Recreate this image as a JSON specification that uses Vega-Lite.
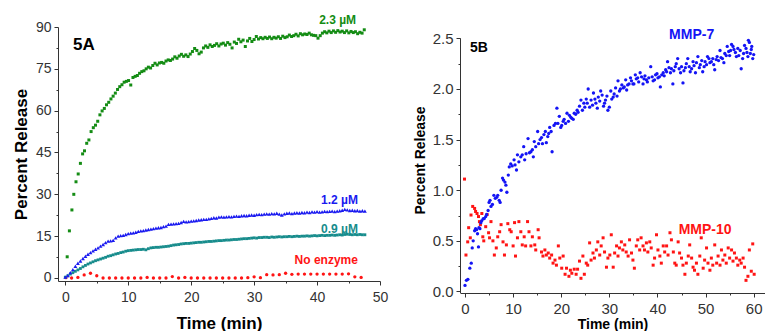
{
"$schema": "https://vega.github.io/schema/vega-lite/v6.json",
"background": "white",
"padding": {"left": 12, "top": 14, "right": 0, "bottom": 0},
"bounds": "flush",
"spacing": 80,
"resolve": {"scale": {"color": "independent"}},
"config": {
  "view": {"stroke": null},
  "axis": {"domainColor": "#333", "tickColor": "#333", "labelFont": "Liberation Sans", "titleFont": "Liberation Sans", "labelColor": "#333", "titleColor": "#000", "titleFontWeight": "bold", "grid": false, "labelFlush": false, "labelOverlap": false, "domainWidth": 1, "tickWidth": 1}
},
"datasets": {
  "g23": [{"t":0.3,"v":7.6},{"t":0.65,"v":16.9},{"t":1.05,"v":24.4},{"t":1.35,"v":30},{"t":1.7,"v":34.5},{"t":2.05,"v":37.3},{"t":2.4,"v":41.1},{"t":2.75,"v":44.5},{"t":3.05,"v":45.6},{"t":3.4,"v":48.3},{"t":3.75,"v":49.5},{"t":4.1,"v":52.5},{"t":4.45,"v":53.9},{"t":4.8,"v":54.8},{"t":5.15,"v":56.2},{"t":5.5,"v":58.5},{"t":5.85,"v":59.9},{"t":6.2,"v":60.8},{"t":6.55,"v":62.1},{"t":6.9,"v":63},{"t":7.25,"v":64.2},{"t":7.6,"v":65.2},{"t":7.95,"v":66.3},{"t":8.3,"v":67.6},{"t":8.65,"v":68.6},{"t":9.0,"v":69.3},{"t":9.35,"v":70.2},{"t":9.7,"v":70.5},{"t":10.05,"v":70.8},{"t":10.4,"v":69.2},{"t":10.75,"v":71.9},{"t":11.1,"v":72.3},{"t":11.45,"v":72.6},{"t":11.8,"v":73.4},{"t":12.15,"v":74.0},{"t":12.5,"v":74.3},{"t":12.85,"v":75.0},{"t":13.2,"v":75.6},{"t":13.55,"v":75.3},{"t":13.9,"v":76.2},{"t":14.25,"v":77.0},{"t":14.6,"v":76.4},{"t":14.95,"v":77.1},{"t":15.3,"v":77.3},{"t":15.65,"v":77.0},{"t":16.0,"v":77.8},{"t":16.35,"v":78.2},{"t":16.7,"v":78.0},{"t":17.05,"v":78.5},{"t":17.4,"v":79.3},{"t":17.75,"v":78.8},{"t":18.1,"v":79.6},{"t":18.45,"v":80.2},{"t":18.8,"v":79.5},{"t":19.15,"v":80.0},{"t":19.5,"v":79.4},{"t":19.85,"v":80.3},{"t":20.2,"v":81.2},{"t":20.55,"v":82.3},{"t":20.9,"v":81.6},{"t":21.25,"v":80.4},{"t":21.6,"v":81.0},{"t":21.95,"v":82.5},{"t":22.3,"v":83.2},{"t":22.65,"v":82.7},{"t":23.0,"v":83.6},{"t":23.35,"v":83.0},{"t":23.7,"v":83.4},{"t":24.05,"v":84.0},{"t":24.4,"v":83.2},{"t":24.75,"v":83.9},{"t":25.1,"v":84.2},{"t":25.45,"v":83.5},{"t":25.8,"v":84.4},{"t":26.15,"v":83.8},{"t":26.5,"v":82.5},{"t":26.85,"v":84.6},{"t":27.2,"v":84.1},{"t":27.55,"v":85.6},{"t":27.9,"v":84.7},{"t":28.25,"v":85.3},{"t":28.6,"v":83.0},{"t":28.95,"v":85.0},{"t":29.3,"v":85.9},{"t":29.65,"v":84.8},{"t":30.0,"v":85.5},{"t":30.35,"v":86.6},{"t":30.7,"v":85.7},{"t":31.05,"v":86.2},{"t":31.4,"v":85.8},{"t":31.75,"v":86.3},{"t":32.1,"v":85.9},{"t":32.45,"v":86.4},{"t":32.8,"v":85.8},{"t":33.15,"v":86.3},{"t":33.5,"v":86.0},{"t":33.85,"v":86.5},{"t":34.2,"v":85.9},{"t":34.55,"v":86.7},{"t":34.9,"v":86.2},{"t":35.25,"v":86.5},{"t":35.6,"v":87.1},{"t":35.95,"v":86.6},{"t":36.3,"v":86.9},{"t":36.65,"v":87.4},{"t":37.0,"v":86.8},{"t":37.35,"v":87.6},{"t":37.7,"v":87.2},{"t":38.05,"v":87.5},{"t":38.4,"v":87.3},{"t":38.75,"v":87.8},{"t":39.1,"v":87.2},{"t":39.45,"v":87.0},{"t":39.8,"v":86.9},{"t":40.15,"v":86.0},{"t":40.5,"v":86.9},{"t":40.85,"v":87.8},{"t":41.2,"v":88.3},{"t":41.55,"v":87.9},{"t":41.9,"v":88.5},{"t":42.25,"v":88.0},{"t":42.6,"v":88.6},{"t":42.95,"v":88.1},{"t":43.3,"v":88.7},{"t":43.65,"v":88.2},{"t":44.0,"v":88.5},{"t":44.35,"v":88.0},{"t":44.7,"v":88.6},{"t":45.05,"v":87.9},{"t":45.4,"v":88.4},{"t":45.75,"v":88.0},{"t":46.1,"v":88.3},{"t":46.45,"v":87.6},{"t":46.8,"v":88.1},{"t":47.15,"v":87.8},{"t":47.5,"v":89.0}],
  "b12": [{"t":0.0,"v":0.3},{"t":0.4,"v":0.9},{"t":0.8,"v":1.9},{"t":1.2,"v":3.0},{"t":1.6,"v":4.2},{"t":2.0,"v":5.3},{"t":2.4,"v":6.1},{"t":2.8,"v":7.0},{"t":3.2,"v":7.8},{"t":3.6,"v":8.5},{"t":4.0,"v":9.1},{"t":4.4,"v":9.7},{"t":4.8,"v":10.3},{"t":5.2,"v":10.8},{"t":5.6,"v":11.4},{"t":6.0,"v":12.0},{"t":6.4,"v":12.7},{"t":6.8,"v":13.2},{"t":7.2,"v":13.3},{"t":7.6,"v":13.5},{"t":8.0,"v":14.4},{"t":8.4,"v":15.0},{"t":8.8,"v":15.2},{"t":9.2,"v":15.3},{"t":9.6,"v":15.6},{"t":10.0,"v":15.9},{"t":10.4,"v":16.1},{"t":10.8,"v":16.2},{"t":11.2,"v":16.4},{"t":11.6,"v":16.7},{"t":12.0,"v":16.9},{"t":12.4,"v":17.0},{"t":12.8,"v":17.2},{"t":13.2,"v":17.4},{"t":13.6,"v":17.5},{"t":14.0,"v":17.7},{"t":14.4,"v":17.9},{"t":14.8,"v":18.0},{"t":15.2,"v":18.1},{"t":15.6,"v":18.4},{"t":16.0,"v":18.6},{"t":16.4,"v":19.2},{"t":16.8,"v":19.3},{"t":17.2,"v":19.4},{"t":17.6,"v":19.5},{"t":18.0,"v":19.6},{"t":18.4,"v":19.9},{"t":18.8,"v":20.3},{"t":19.2,"v":20.1},{"t":19.6,"v":20.2},{"t":20.0,"v":20.4},{"t":20.4,"v":20.5},{"t":20.8,"v":20.6},{"t":21.2,"v":20.8},{"t":21.6,"v":20.9},{"t":22.0,"v":21.0},{"t":22.4,"v":21.0},{"t":22.8,"v":21.2},{"t":23.2,"v":21.4},{"t":23.6,"v":21.6},{"t":24.0,"v":21.5},{"t":24.4,"v":21.8},{"t":24.8,"v":21.9},{"t":25.2,"v":21.8},{"t":25.6,"v":21.9},{"t":26.0,"v":22.0},{"t":26.4,"v":21.9},{"t":26.8,"v":22.1},{"t":27.2,"v":22.2},{"t":27.6,"v":22.1},{"t":28.0,"v":22.3},{"t":28.4,"v":22.4},{"t":28.8,"v":22.3},{"t":29.2,"v":22.5},{"t":29.6,"v":22.6},{"t":30.0,"v":22.5},{"t":30.4,"v":22.7},{"t":30.8,"v":22.8},{"t":31.2,"v":22.7},{"t":31.6,"v":22.9},{"t":32.0,"v":23.0},{"t":32.4,"v":22.9},{"t":32.8,"v":23.1},{"t":33.2,"v":23.0},{"t":33.6,"v":23.2},{"t":34.0,"v":22.9},{"t":34.4,"v":22.6},{"t":34.8,"v":23.0},{"t":35.2,"v":23.2},{"t":35.6,"v":23.3},{"t":36.0,"v":23.1},{"t":36.4,"v":23.3},{"t":36.8,"v":23.4},{"t":37.2,"v":23.3},{"t":37.6,"v":23.5},{"t":38.0,"v":23.4},{"t":38.4,"v":23.6},{"t":38.8,"v":23.5},{"t":39.2,"v":23.7},{"t":39.6,"v":23.6},{"t":40.0,"v":23.8},{"t":40.4,"v":23.6},{"t":40.8,"v":23.7},{"t":41.2,"v":23.9},{"t":41.6,"v":23.8},{"t":42.0,"v":23.9},{"t":42.4,"v":24.0},{"t":42.8,"v":23.8},{"t":43.2,"v":24.0},{"t":43.6,"v":24.1},{"t":44.0,"v":24.3},{"t":44.4,"v":24.6},{"t":44.8,"v":24.4},{"t":45.2,"v":24.2},{"t":45.6,"v":24.3},{"t":46.0,"v":24.1},{"t":46.4,"v":24.2},{"t":46.8,"v":24.0},{"t":47.2,"v":24.1},{"t":47.6,"v":24.0}],
  "t09": [{"t":0.0,"v":0.3},{"t":0.4,"v":0.8},{"t":0.8,"v":1.4},{"t":1.2,"v":1.9},{"t":1.6,"v":2.4},{"t":2.0,"v":2.9},{"t":2.4,"v":3.4},{"t":2.8,"v":4.0},{"t":3.2,"v":4.5},{"t":3.6,"v":5.0},{"t":4.0,"v":5.4},{"t":4.4,"v":5.8},{"t":4.8,"v":6.2},{"t":5.2,"v":6.5},{"t":5.6,"v":6.8},{"t":6.0,"v":7.1},{"t":6.4,"v":7.4},{"t":6.8,"v":7.8},{"t":7.2,"v":8.0},{"t":7.6,"v":8.3},{"t":8.0,"v":8.6},{"t":8.4,"v":8.8},{"t":8.8,"v":9.1},{"t":9.2,"v":9.3},{"t":9.6,"v":9.6},{"t":10.0,"v":9.8},{"t":10.4,"v":9.9},{"t":10.8,"v":10.0},{"t":11.2,"v":10.1},{"t":11.6,"v":10.2},{"t":12.0,"v":10.2},{"t":12.4,"v":10.3},{"t":12.8,"v":10.1},{"t":13.2,"v":10.5},{"t":13.6,"v":10.8},{"t":14.0,"v":10.9},{"t":14.4,"v":11.0},{"t":14.8,"v":11.0},{"t":15.2,"v":11.1},{"t":15.6,"v":11.2},{"t":16.0,"v":11.3},{"t":16.4,"v":11.4},{"t":16.8,"v":11.6},{"t":17.2,"v":11.8},{"t":17.6,"v":11.9},{"t":18.0,"v":12.0},{"t":18.4,"v":12.2},{"t":18.8,"v":12.3},{"t":19.2,"v":12.4},{"t":19.6,"v":12.4},{"t":20.0,"v":12.5},{"t":20.4,"v":12.6},{"t":20.8,"v":12.7},{"t":21.2,"v":12.8},{"t":21.6,"v":12.8},{"t":22.0,"v":12.9},{"t":22.4,"v":13.0},{"t":22.8,"v":13.1},{"t":23.2,"v":13.1},{"t":23.6,"v":13.2},{"t":24.0,"v":13.3},{"t":24.4,"v":13.4},{"t":24.8,"v":13.4},{"t":25.2,"v":13.5},{"t":25.6,"v":13.6},{"t":26.0,"v":13.6},{"t":26.4,"v":13.7},{"t":26.8,"v":13.8},{"t":27.2,"v":13.8},{"t":27.6,"v":13.9},{"t":28.0,"v":14.0},{"t":28.4,"v":14.1},{"t":28.8,"v":14.1},{"t":29.2,"v":14.2},{"t":29.6,"v":14.3},{"t":30.0,"v":14.4},{"t":30.4,"v":14.3},{"t":30.8,"v":14.5},{"t":31.2,"v":14.5},{"t":31.6,"v":14.6},{"t":32.0,"v":14.6},{"t":32.4,"v":14.5},{"t":32.8,"v":14.7},{"t":33.2,"v":14.6},{"t":33.6,"v":14.7},{"t":34.0,"v":14.8},{"t":34.4,"v":14.7},{"t":34.8,"v":14.8},{"t":35.2,"v":14.8},{"t":35.6,"v":14.9},{"t":36.0,"v":14.8},{"t":36.4,"v":14.9},{"t":36.8,"v":15.0},{"t":37.2,"v":14.9},{"t":37.6,"v":15.0},{"t":38.0,"v":15.0},{"t":38.4,"v":15.1},{"t":38.8,"v":15.0},{"t":39.2,"v":15.1},{"t":39.6,"v":15.2},{"t":40.0,"v":15.1},{"t":40.4,"v":15.2},{"t":40.8,"v":15.3},{"t":41.2,"v":15.2},{"t":41.6,"v":15.3},{"t":42.0,"v":15.3},{"t":42.4,"v":15.4},{"t":42.8,"v":15.3},{"t":43.2,"v":15.4},{"t":43.6,"v":15.5},{"t":44.0,"v":15.4},{"t":44.4,"v":15.6},{"t":44.8,"v":15.7},{"t":45.2,"v":15.6},{"t":45.6,"v":15.5},{"t":46.0,"v":15.6},{"t":46.4,"v":15.5},{"t":46.8,"v":15.6},{"t":47.2,"v":15.5},{"t":47.6,"v":15.5}],
  "r0": [{"t":0.1,"v":0.1},{"t":1,"v":0},{"t":2,"v":0.2},{"t":3,"v":1.1},{"t":4,"v":1.7},{"t":5,"v":0.8},{"t":6,"v":0},{"t":7,"v":0},{"t":8,"v":0},{"t":9,"v":0},{"t":10,"v":0},{"t":11,"v":0},{"t":12,"v":0},{"t":13,"v":0.2},{"t":14,"v":0},{"t":15,"v":0},{"t":16,"v":0},{"t":17,"v":0.5},{"t":18,"v":0},{"t":19,"v":0.2},{"t":20,"v":0},{"t":21,"v":0},{"t":22,"v":0},{"t":23,"v":0},{"t":24,"v":0},{"t":25,"v":0},{"t":26,"v":0},{"t":27,"v":0},{"t":28,"v":0},{"t":29,"v":0.1},{"t":30,"v":0.4},{"t":31,"v":0.1},{"t":32,"v":1.2},{"t":33,"v":1.1},{"t":34,"v":1.2},{"t":35,"v":1.7},{"t":36,"v":1.3},{"t":37,"v":1.4},{"t":38,"v":1.4},{"t":39,"v":1.4},{"t":40,"v":1.4},{"t":41,"v":1.4},{"t":42,"v":1.4},{"t":43,"v":1.4},{"t":44,"v":1.4},{"t":45,"v":1.5},{"t":46,"v":0.4},{"t":47,"v":0.2}],
  "m7": [{"t":0,"v":0.06},{"t":0.3,"v":0.11},{"t":0.6,"v":0.12},{"t":1.0,"v":0.23},{"t":1.3,"v":0.28},{"t":1.5,"v":0.43},{"t":1.7,"v":0.5},{"t":2.0,"v":0.6},{"t":2.2,"v":0.62},{"t":2.4,"v":0.61},{"t":2.6,"v":0.57},{"t":2.8,"v":0.44},{"t":2.9,"v":0.63},{"t":3.1,"v":0.62},{"t":3.3,"v":0.68},{"t":3.5,"v":0.7},{"t":3.8,"v":0.72},{"t":4.0,"v":0.72},{"t":4.3,"v":0.74},{"t":4.5,"v":0.76},{"t":4.8,"v":0.8},{"t":5.0,"v":0.88},{"t":5.2,"v":0.9},{"t":5.4,"v":0.84},{"t":5.7,"v":0.86},{"t":6.0,"v":0.95},{"t":6.3,"v":0.92},{"t":6.6,"v":0.93},{"t":6.8,"v":0.95},{"t":7.1,"v":0.9},{"t":7.3,"v":0.88},{"t":7.5,"v":1.0},{"t":7.8,"v":1.12},{"t":8.0,"v":1.1},{"t":8.3,"v":1.08},{"t":8.5,"v":1.05},{"t":8.7,"v":0.98},{"t":9.0,"v":1.15},{"t":9.2,"v":1.23},{"t":9.5,"v":1.26},{"t":9.8,"v":1.24},{"t":10.2,"v":1.3},{"t":10.4,"v":1.25},{"t":10.7,"v":1.2},{"t":10.9,"v":1.35},{"t":11.2,"v":1.28},{"t":11.6,"v":1.33},{"t":11.9,"v":1.35},{"t":12.2,"v":1.43},{"t":12.4,"v":1.3},{"t":12.7,"v":1.36},{"t":13.1,"v":1.51},{"t":13.4,"v":1.37},{"t":13.7,"v":1.38},{"t":14.0,"v":1.4},{"t":14.2,"v":1.33},{"t":14.4,"v":1.48},{"t":14.7,"v":1.43},{"t":15.1,"v":1.58},{"t":15.3,"v":1.46},{"t":15.6,"v":1.5},{"t":15.9,"v":1.52},{"t":16.1,"v":1.46},{"t":16.4,"v":1.55},{"t":16.7,"v":1.58},{"t":16.9,"v":1.47},{"t":17.2,"v":1.53},{"t":17.4,"v":1.56},{"t":17.6,"v":1.62},{"t":17.9,"v":1.58},{"t":18.1,"v":1.38},{"t":18.5,"v":1.64},{"t":18.8,"v":1.66},{"t":19.1,"v":1.81},{"t":19.3,"v":1.66},{"t":19.6,"v":1.73},{"t":19.9,"v":1.62},{"t":20.1,"v":1.64},{"t":20.4,"v":1.68},{"t":20.6,"v":1.7},{"t":20.9,"v":1.66},{"t":21.2,"v":1.76},{"t":21.5,"v":1.68},{"t":21.7,"v":1.74},{"t":22.0,"v":1.72},{"t":22.2,"v":1.71},{"t":22.5,"v":1.7},{"t":22.7,"v":1.76},{"t":23.0,"v":1.75},{"t":23.3,"v":1.79},{"t":23.5,"v":1.77},{"t":23.8,"v":1.83},{"t":24.1,"v":1.89},{"t":24.4,"v":1.79},{"t":24.7,"v":1.86},{"t":24.9,"v":1.82},{"t":25.2,"v":1.9},{"t":25.4,"v":1.86},{"t":25.6,"v":2.0},{"t":25.9,"v":1.82},{"t":26.2,"v":1.89},{"t":26.5,"v":1.84},{"t":26.7,"v":1.96},{"t":27.0,"v":1.9},{"t":27.2,"v":1.86},{"t":27.5,"v":1.81},{"t":27.7,"v":1.92},{"t":28.0,"v":1.88},{"t":28.2,"v":1.98},{"t":28.5,"v":1.94},{"t":28.8,"v":1.83},{"t":29.0,"v":1.86},{"t":29.2,"v":1.89},{"t":29.5,"v":1.93},{"t":29.7,"v":1.79},{"t":30.0,"v":1.82},{"t":30.3,"v":1.98},{"t":30.5,"v":1.9},{"t":30.8,"v":1.92},{"t":31.0,"v":1.95},{"t":31.3,"v":2.01},{"t":31.6,"v":1.93},{"t":31.8,"v":2.08},{"t":32.1,"v":1.98},{"t":32.3,"v":2.0},{"t":32.6,"v":2.04},{"t":32.9,"v":2.01},{"t":33.1,"v":2.02},{"t":33.4,"v":2.09},{"t":33.6,"v":1.99},{"t":33.8,"v":2.04},{"t":34.1,"v":2.05},{"t":34.4,"v":2.11},{"t":34.6,"v":2.08},{"t":34.9,"v":2.05},{"t":35.1,"v":2.05},{"t":35.4,"v":2.14},{"t":35.6,"v":2.1},{"t":35.9,"v":2.11},{"t":36.1,"v":2.07},{"t":36.4,"v":2.16},{"t":36.7,"v":2.12},{"t":37.0,"v":2.05},{"t":37.2,"v":2.1},{"t":37.4,"v":2.13},{"t":37.7,"v":2.09},{"t":37.9,"v":2.07},{"t":38.2,"v":2.11},{"t":38.6,"v":2.22},{"t":38.9,"v":2.12},{"t":39.1,"v":2.08},{"t":39.4,"v":2.09},{"t":39.6,"v":2.14},{"t":39.9,"v":2.15},{"t":40.1,"v":2.11},{"t":40.4,"v":2.12},{"t":40.6,"v":2.02},{"t":40.9,"v":2.14},{"t":41.2,"v":2.16},{"t":41.4,"v":2.13},{"t":41.7,"v":2.19},{"t":41.9,"v":2.17},{"t":42.1,"v":2.27},{"t":42.4,"v":2.21},{"t":42.7,"v":2.16},{"t":42.9,"v":2.2},{"t":43.2,"v":2.05},{"t":43.4,"v":2.18},{"t":43.7,"v":2.22},{"t":43.9,"v":2.25},{"t":44.2,"v":2.3},{"t":44.5,"v":2.2},{"t":44.8,"v":2.16},{"t":45.0,"v":2.22},{"t":45.3,"v":2.06},{"t":45.5,"v":2.18},{"t":45.8,"v":2.21},{"t":46.0,"v":2.25},{"t":46.3,"v":2.3},{"t":46.6,"v":2.22},{"t":46.8,"v":2.17},{"t":47.1,"v":2.2},{"t":47.4,"v":2.27},{"t":47.6,"v":2.23},{"t":47.9,"v":2.16},{"t":48.1,"v":2.26},{"t":48.4,"v":2.32},{"t":48.7,"v":2.21},{"t":48.9,"v":2.24},{"t":49.2,"v":2.28},{"t":49.4,"v":2.17},{"t":49.7,"v":2.22},{"t":49.9,"v":2.27},{"t":50.2,"v":2.24},{"t":50.4,"v":2.32},{"t":50.7,"v":2.3},{"t":50.9,"v":2.26},{"t":51.2,"v":2.27},{"t":51.5,"v":2.3},{"t":51.7,"v":2.24},{"t":51.9,"v":2.19},{"t":52.2,"v":2.29},{"t":52.4,"v":2.32},{"t":52.7,"v":2.28},{"t":53.0,"v":2.38},{"t":53.2,"v":2.31},{"t":53.5,"v":2.3},{"t":53.8,"v":2.26},{"t":54.0,"v":2.35},{"t":54.3,"v":2.33},{"t":54.5,"v":2.42},{"t":54.8,"v":2.37},{"t":55.0,"v":2.33},{"t":55.2,"v":2.38},{"t":55.4,"v":2.44},{"t":55.7,"v":2.42},{"t":55.9,"v":2.39},{"t":56.2,"v":2.36},{"t":56.4,"v":2.32},{"t":56.7,"v":2.4},{"t":56.9,"v":2.33},{"t":57.2,"v":2.38},{"t":57.4,"v":2.2},{"t":57.7,"v":2.3},{"t":57.9,"v":2.35},{"t":58.1,"v":2.43},{"t":58.4,"v":2.4},{"t":58.6,"v":2.36},{"t":58.8,"v":2.32},{"t":58.9,"v":2.48},{"t":59.1,"v":2.46},{"t":59.3,"v":2.35},{"t":59.5,"v":2.39},{"t":59.6,"v":2.42},{"t":59.8,"v":2.3},{"t":60.0,"v":2.34}],
  "m10": [{"t":-0.1,"v":1.11},{"t":0.2,"v":0.36},{"t":0.56,"v":0.49},{"t":0.76,"v":0.63},{"t":1.1,"v":0.53},{"t":1.25,"v":0.755},{"t":1.6,"v":0.84},{"t":2.0,"v":0.82},{"t":2.2,"v":0.79},{"t":2.5,"v":0.77},{"t":2.8,"v":0.74},{"t":3.0,"v":0.69},{"t":3.2,"v":0.66},{"t":3.5,"v":0.77},{"t":3.7,"v":0.54},{"t":3.9,"v":0.5},{"t":4.3,"v":0.64},{"t":4.6,"v":0.76},{"t":4.9,"v":0.58},{"t":5.1,"v":0.53},{"t":5.4,"v":0.69},{"t":5.8,"v":0.5},{"t":6.1,"v":0.36},{"t":6.5,"v":0.43},{"t":6.8,"v":0.54},{"t":7.2,"v":0.59},{"t":7.5,"v":0.66},{"t":7.9,"v":0.49},{"t":8.2,"v":0.36},{"t":8.6,"v":0.46},{"t":8.9,"v":0.67},{"t":9.3,"v":0.61},{"t":9.6,"v":0.59},{"t":10.0,"v":0.45},{"t":10.3,"v":0.68},{"t":10.5,"v":0.35},{"t":10.9,"v":0.53},{"t":11.2,"v":0.69},{"t":11.6,"v":0.59},{"t":11.9,"v":0.46},{"t":12.3,"v":0.54},{"t":12.6,"v":0.45},{"t":13.0,"v":0.69},{"t":13.3,"v":0.59},{"t":13.7,"v":0.45},{"t":14.0,"v":0.54},{"t":14.5,"v":0.46},{"t":14.7,"v":0.41},{"t":15.2,"v":0.61},{"t":15.4,"v":0.53},{"t":15.9,"v":0.39},{"t":16.2,"v":0.35},{"t":16.6,"v":0.41},{"t":16.9,"v":0.36},{"t":17.3,"v":0.38},{"t":17.6,"v":0.33},{"t":18.0,"v":0.36},{"t":18.3,"v":0.28},{"t":18.7,"v":0.31},{"t":19.0,"v":0.26},{"t":19.4,"v":0.45},{"t":19.7,"v":0.33},{"t":20.1,"v":0.23},{"t":20.4,"v":0.35},{"t":20.8,"v":0.17},{"t":21.1,"v":0.23},{"t":21.6,"v":0.15},{"t":21.9,"v":0.21},{"t":22.2,"v":0.18},{"t":22.7,"v":0.22},{"t":23.1,"v":0.17},{"t":23.4,"v":0.22},{"t":23.8,"v":0.3},{"t":24.1,"v":0.13},{"t":24.5,"v":0.35},{"t":24.8,"v":0.17},{"t":25.2,"v":0.28},{"t":25.5,"v":0.26},{"t":25.9,"v":0.48},{"t":26.2,"v":0.31},{"t":26.6,"v":0.38},{"t":26.9,"v":0.33},{"t":27.3,"v":0.41},{"t":27.6,"v":0.49},{"t":28.0,"v":0.36},{"t":28.3,"v":0.45},{"t":28.7,"v":0.53},{"t":29.0,"v":0.39},{"t":29.4,"v":0.24},{"t":29.7,"v":0.33},{"t":30.1,"v":0.36},{"t":30.4,"v":0.56},{"t":30.8,"v":0.24},{"t":31.1,"v":0.38},{"t":31.5,"v":0.45},{"t":31.8,"v":0.35},{"t":32.1,"v":0.43},{"t":32.5,"v":0.49},{"t":32.8,"v":0.41},{"t":33.2,"v":0.46},{"t":33.5,"v":0.39},{"t":33.9,"v":0.35},{"t":34.2,"v":0.51},{"t":34.6,"v":0.38},{"t":34.9,"v":0.31},{"t":35.2,"v":0.23},{"t":35.6,"v":0.45},{"t":35.9,"v":0.51},{"t":36.3,"v":0.41},{"t":36.6,"v":0.53},{"t":37.0,"v":0.45},{"t":37.3,"v":0.41},{"t":37.7,"v":0.48},{"t":38.0,"v":0.39},{"t":38.4,"v":0.49},{"t":38.7,"v":0.43},{"t":39.1,"v":0.26},{"t":39.4,"v":0.33},{"t":39.8,"v":0.56},{"t":40.1,"v":0.41},{"t":40.5,"v":0.35},{"t":40.8,"v":0.28},{"t":41.2,"v":0.45},{"t":41.5,"v":0.39},{"t":41.9,"v":0.45},{"t":42.2,"v":0.36},{"t":42.6,"v":0.58},{"t":42.9,"v":0.51},{"t":43.3,"v":0.39},{"t":43.6,"v":0.28},{"t":43.9,"v":0.26},{"t":44.3,"v":0.49},{"t":44.6,"v":0.38},{"t":45.0,"v":0.33},{"t":45.3,"v":0.26},{"t":45.7,"v":0.17},{"t":46.0,"v":0.28},{"t":46.4,"v":0.35},{"t":46.7,"v":0.46},{"t":47.1,"v":0.33},{"t":47.4,"v":0.24},{"t":47.7,"v":0.21},{"t":48.1,"v":0.28},{"t":48.4,"v":0.17},{"t":48.8,"v":0.35},{"t":49.1,"v":0.53},{"t":49.5,"v":0.23},{"t":49.8,"v":0.31},{"t":50.2,"v":0.43},{"t":50.5,"v":0.28},{"t":50.9,"v":0.21},{"t":51.2,"v":0.33},{"t":51.5,"v":0.26},{"t":51.9,"v":0.46},{"t":52.3,"v":0.28},{"t":52.6,"v":0.35},{"t":53.0,"v":0.26},{"t":53.3,"v":0.41},{"t":53.6,"v":0.31},{"t":54.0,"v":0.36},{"t":54.3,"v":0.28},{"t":54.7,"v":0.43},{"t":55.0,"v":0.33},{"t":55.4,"v":0.41},{"t":55.7,"v":0.3},{"t":56.0,"v":0.38},{"t":56.4,"v":0.33},{"t":56.7,"v":0.26},{"t":57.1,"v":0.31},{"t":57.4,"v":0.28},{"t":57.8,"v":0.33},{"t":58.1,"v":0.24},{"t":58.4,"v":0.11},{"t":58.8,"v":0.15},{"t":59.1,"v":0.41},{"t":59.5,"v":0.2},{"t":59.8,"v":0.47},{"t":60.1,"v":0.17}],
  "labA": [{"label":"2.3 µM","t":46.2,"v":92.4},{"label":"1.2 µM","t":46.5,"v":28.0},{"label":"0.9 µM","t":46.5,"v":17.5},{"label":"No enzyme","t":46.5,"v":6.5}],
  "panA": [{"label":"5A","t":1.22,"v":83.5}],
  "labB": [{"label":"MMP-7","t":47.1,"v":2.53},{"label":"MMP-10","t":49.9,"v":0.607}],
  "panB": [{"label":"5B","t":1.04,"v":2.404}]
},
"hconcat": [
  {
    "width": 322,
    "height": 254,
    "encoding": {
      "x": {"field": "t", "type": "quantitative", "scale": {"domain": [-1.16, 50], "nice": false, "zero": false},
        "axis": {"title": "Time (min)", "values": [0,5,10,15,20,25,30,35,40,45,50], "labelExpr": "datum.value % 10 === 0 ? datum.label : ''", "tickSize": {"condition": {"test": "datum.value % 10 === 0", "value": 4}, "value": 2}, "labelFontSize": 14, "labelPadding": 5, "titleFontSize": 17, "titlePadding": 11}},
      "y": {"field": "v", "type": "quantitative", "scale": {"domain": [-1.08, 90], "nice": false, "zero": false},
        "axis": {"title": "Percent Release", "values": [0,7.5,15,22.5,30,37.5,45,52.5,60,67.5,75,82.5,90], "labelExpr": "datum.value % 15 === 0 ? datum.label : ''", "tickSize": {"condition": {"test": "datum.value % 15 === 0", "value": 4}, "value": 2}, "labelFontSize": 14, "labelPadding": 3, "titleFontSize": 17, "titlePadding": 5}}
    },
    "layer": [
      {"data": {"name": "r0"}, "mark": {"type": "circle", "size": 11, "opacity": 1, "color": "#ff1414"}},
      {"data": {"name": "t09"}, "mark": {"type": "square", "size": 8, "opacity": 1, "color": "#178c8c"}},
      {"data": {"name": "b12"}, "mark": {"type": "point", "shape": "triangle-up", "filled": true, "size": 15, "opacity": 1, "color": "#1a1af0"}},
      {"data": {"name": "g23"}, "mark": {"type": "square", "size": 9, "opacity": 1, "color": "#148c14"}},
      {"data": {"name": "labA"}, "mark": {"type": "text", "align": "right", "baseline": "middle", "font": "Liberation Sans", "fontSize": 12, "fontWeight": "bold"},
        "encoding": {"text": {"field": "label"}, "color": {"field": "label", "type": "nominal", "scale": {"domain": ["2.3 µM","1.2 µM","0.9 µM","No enzyme"], "range": ["#148c14","#1a1af0","#178c8c","#ff1414"]}, "legend": null}}},
      {"data": {"name": "panA"}, "mark": {"type": "text", "align": "left", "baseline": "middle", "font": "Liberation Sans", "fontSize": 17, "fontWeight": "bold", "color": "#000"},
        "encoding": {"text": {"field": "label"}}}
    ]
  },
  {
    "width": 305,
    "height": 266,
    "encoding": {
      "x": {"field": "t", "type": "quantitative", "scale": {"domain": [-1.04, 62.35], "nice": false, "zero": false},
        "axis": {"title": "Time (min)", "values": [0,5,10,15,20,25,30,35,40,45,50,55,60], "labelExpr": "datum.value % 10 === 0 ? datum.label : ''", "tickSize": {"condition": {"test": "datum.value % 10 === 0", "value": 4}, "value": 2}, "labelFontSize": 15, "labelPadding": 4, "titleFontSize": 14, "titlePadding": 1}},
      "y": {"field": "v", "type": "quantitative", "scale": {"domain": [-0.015, 2.612], "nice": false, "zero": false},
        "axis": {"title": "Percent Release", "domain": false, "format": ".1f", "values": [0,0.25,0.5,0.75,1,1.25,1.5,1.75,2,2.25,2.5], "labelExpr": "abs(datum.value*2 - round(datum.value*2)) < 0.001 ? datum.label : ''", "tickSize": {"condition": {"test": "abs(datum.value*2 - round(datum.value*2)) < 0.001", "value": 4}, "value": 2}, "labelFontSize": 15, "labelPadding": 3, "titleFontSize": 14, "titlePadding": 5}}
    },
    "layer": [
      {"data": {"name": "panB"}, "mark": {"type": "rule", "color": "#333", "strokeWidth": 1},
        "encoding": {"x": {"datum": -0.936, "type": "quantitative"}, "y": {"datum": -0.015, "type": "quantitative"}, "y2": {"datum": 2.5}}},
      {"data": {"name": "m10"}, "mark": {"type": "square", "size": 9, "opacity": 1, "color": "#ff1414"}},
      {"data": {"name": "m7"}, "mark": {"type": "circle", "size": 11, "opacity": 1, "color": "#1414f5"}},
      {"data": {"name": "labB"}, "mark": {"type": "text", "align": "center", "baseline": "middle", "font": "Liberation Sans", "fontSize": 14, "fontWeight": "bold"},
        "encoding": {"text": {"field": "label"}, "color": {"field": "label", "type": "nominal", "scale": {"domain": ["MMP-7","MMP-10"], "range": ["#1414f5","#ff1414"]}, "legend": null}}},
      {"data": {"name": "panB"}, "mark": {"type": "text", "align": "left", "baseline": "middle", "font": "Liberation Sans", "fontSize": 14, "fontWeight": "bold", "color": "#000"},
        "encoding": {"text": {"field": "label"}}}
    ]
  }
]
}
